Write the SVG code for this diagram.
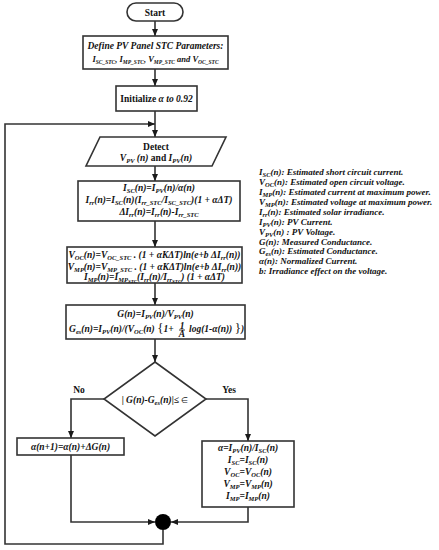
<svg xmlns="http://www.w3.org/2000/svg" width="439" height="550" viewBox="0 0 439 550">
<defs>
<marker id="ah" markerWidth="7" markerHeight="6" refX="7" refY="3" orient="auto" markerUnits="userSpaceOnUse"><path d="M0,0 L7,3 L0,6 z" fill="#1a1a1a"/></marker>
<style>
.bx{fill:#fff;stroke:#333;stroke-width:1.6}
.cn{fill:none;stroke:#333;stroke-width:1.6}
text{font-family:"Liberation Serif","Times New Roman",serif;font-weight:bold;font-style:italic;font-size:9.5px;fill:#111}
.c{text-anchor:middle}
.n{font-style:normal}
.lg{font-size:9px}
.sb{font-size:6.5px}
.ss{font-size:5px}
.d2{font-size:8.5px}
.d2 tspan{font-size:5.5px}
</style>
</defs>
<rect width="439" height="550" fill="#fff"/>

<g id="connectors">
<line class="cn" x1="155" y1="21" x2="155" y2="36" marker-end="url(#ah)"/>
<line class="cn" x1="155" y1="69" x2="155" y2="86" marker-end="url(#ah)"/>
<line class="cn" x1="155" y1="111" x2="155" y2="137" marker-end="url(#ah)"/>
<path class="cn" d="M163,530 V544 H5 V124 H155" marker-end="url(#ah)"/>
<line class="cn" x1="155" y1="166" x2="155" y2="181" marker-end="url(#ah)"/>
<line class="cn" x1="155" y1="221" x2="155" y2="247" marker-end="url(#ah)"/>
<line class="cn" x1="155" y1="283" x2="155" y2="305" marker-end="url(#ah)"/>
<line class="cn" x1="155" y1="339" x2="155" y2="362" marker-end="url(#ah)"/>
<path class="cn" d="M104,399 H71 V438" marker-end="url(#ah)"/>
<path class="cn" d="M71,455 V522 H155" marker-end="url(#ah)"/>
<path class="cn" d="M206,399 H248 V441" marker-end="url(#ah)"/>
<path class="cn" d="M248,507 V522 H171" marker-end="url(#ah)"/>
<text x="79" y="393" class="c n">No</text>
<text x="229" y="393" class="c n">Yes</text>
</g>

<g id="start">
<rect class="bx" x="127" y="3" width="56" height="18" rx="9"/>
<text x="155" y="15.5" class="c n">Start</text>
</g>

<g id="define">
<rect class="bx" x="83" y="36" width="145" height="33"/>
<text x="155.5" y="48.5" class="c">Define PV Panel STC Parameters:</text>
<text x="155.5" y="62" class="c d2">I<tspan baseline-shift="-2">SC_STC</tspan>, I<tspan baseline-shift="-2">MP_STC</tspan>, V<tspan baseline-shift="-2">MP_STC</tspan> and V<tspan baseline-shift="-2">OC_STC</tspan></text>
</g>

<g id="init">
<rect class="bx" x="116" y="86" width="81" height="25"/>
<text x="156.5" y="101.5" class="c"><tspan class="n">Initialize </tspan>α to 0.92</text>
</g>

<g id="detect">
<polygon class="bx" points="100,137 226,137 212,166 86,166"/>
<text x="156" y="150" class="c n">Detect</text>
<text x="156" y="161" class="c">V<tspan class="sb" baseline-shift="-2">PV</tspan> (n) <tspan class="n">and</tspan> I<tspan class="sb" baseline-shift="-2">PV</tspan>(n)</text>
</g>

<g id="estimate-isc">
<rect class="bx" x="78" y="181" width="162" height="40"/>
<text x="159" y="191" class="c">I<tspan class="sb" baseline-shift="-2">SC</tspan>(n)=I<tspan class="sb" baseline-shift="-2">PV</tspan>(n)/α(n)</text>
<text x="159" y="203" class="c">I<tspan class="sb" baseline-shift="-2">rr</tspan>(n)=I<tspan class="sb" baseline-shift="-2">SC</tspan>(n)(I<tspan class="sb" baseline-shift="-2">rr_STC</tspan>/I<tspan class="sb" baseline-shift="-2">SC_STC</tspan>)(1 + αΔT)</text>
<text x="159" y="215" class="c">ΔI<tspan class="sb" baseline-shift="-2">rr</tspan>(n)=I<tspan class="sb" baseline-shift="-2">rr</tspan>(n)-I<tspan class="sb" baseline-shift="-2">rr_STC</tspan></text>
</g>

<g id="estimate-voc">
<rect class="bx" x="67" y="247" width="175" height="36"/>
<text x="154.5" y="258" class="c">V<tspan class="sb" baseline-shift="-2">OC</tspan>(n)=V<tspan class="sb" baseline-shift="-2">OC_STC</tspan> . (1 + αKΔT)ln(e+b ΔI<tspan class="sb" baseline-shift="-2">rr</tspan>(n))</text>
<text x="154.5" y="269.5" class="c">V<tspan class="sb" baseline-shift="-2">MP</tspan>(n)=V<tspan class="sb" baseline-shift="-2">MP_STC</tspan> . (1 + αKΔT)ln(e+b ΔI<tspan class="sb" baseline-shift="-2">rr</tspan>(n))</text>
<text x="154.5" y="280" class="c">I<tspan class="sb" baseline-shift="-2">MP</tspan>(n)=I<tspan class="sb" baseline-shift="-2">MP</tspan><tspan class="ss" baseline-shift="-3">STC</tspan>(I<tspan class="sb" baseline-shift="-2">rr</tspan>(n)/I<tspan class="sb" baseline-shift="-2">rr</tspan><tspan class="ss" baseline-shift="-3">STC</tspan>) (1 + αΔT)</text>
</g>

<g id="conductance">
<rect class="bx" x="66" y="305" width="179" height="34"/>
<text x="155.5" y="317" class="c">G(n)=I<tspan class="sb" baseline-shift="-2">PV</tspan>(n)/V<tspan class="sb" baseline-shift="-2">PV</tspan>(n)</text>
<text x="69" y="332">G<tspan class="sb" baseline-shift="-2">es</tspan>(n)=I<tspan class="sb" baseline-shift="-2">PV</tspan>(n)/(V<tspan class="sb" baseline-shift="-2">OC</tspan>(n) <tspan font-size="13" font-style="normal" font-weight="normal">{</tspan>1+</text>
<text x="182" y="328.5" class="c">1</text>
<line x1="179" y1="330" x2="185" y2="330" stroke="#111" stroke-width="0.8"/>
<text x="182" y="337" class="c">A</text>
<text x="189" y="332">log(1-α(n)) <tspan font-size="13" font-style="normal" font-weight="normal">}</tspan>)</text>
</g>

<g id="decision">
<polygon class="bx" points="155,362 206,399 155,436 104,399"/>
<text x="155" y="402.5" class="c n">| <tspan font-style="italic">G(n)-G</tspan><tspan class="sb" font-style="italic" baseline-shift="-2">es</tspan><tspan font-style="italic">(n)</tspan>|≤ <tspan font-size="8" font-weight="normal">∈</tspan></text>
</g>

<g id="update-alpha">
<rect class="bx" x="17" y="438" width="107" height="17"/>
<text x="70.5" y="450" class="c">α(n+1)=α(n)+ΔG(n)</text>
</g>

<g id="assign">
<rect class="bx" x="202" y="441" width="92" height="66"/>
<text x="248" y="451" class="c">α=I<tspan class="sb" baseline-shift="-2">PV</tspan>(n)/I<tspan class="sb" baseline-shift="-2">SC</tspan>(n)</text>
<text x="248" y="463" class="c">I<tspan class="sb" baseline-shift="-2">SC</tspan>=I<tspan class="sb" baseline-shift="-2">SC</tspan>(n)</text>
<text x="248" y="475" class="c">V<tspan class="sb" baseline-shift="-2">OC</tspan>=V<tspan class="sb" baseline-shift="-2">OC</tspan>(n)</text>
<text x="248" y="487" class="c">V<tspan class="sb" baseline-shift="-2">MP</tspan>=V<tspan class="sb" baseline-shift="-2">MP</tspan>(n)</text>
<text x="248" y="499" class="c">I<tspan class="sb" baseline-shift="-2">MP</tspan>=I<tspan class="sb" baseline-shift="-2">MP</tspan>(n)</text>
</g>

<g id="junction">
<circle cx="163" cy="522" r="8" fill="#000"/>
</g>

<g id="legend">
<text class="lg" x="259" y="175">I<tspan class="sb" baseline-shift="-2">SC</tspan>(n): Estimated short circuit current.</text>
<text class="lg" x="259" y="185">V<tspan class="sb" baseline-shift="-2">OC</tspan>(n): Estimated open circuit voltage.</text>
<text class="lg" x="259" y="195">I<tspan class="sb" baseline-shift="-2">MP</tspan>(n): Estimated current at maximum power.</text>
<text class="lg" x="259" y="205">V<tspan class="sb" baseline-shift="-2">MP</tspan>(n): Estimated voltage at maximum power.</text>
<text class="lg" x="259" y="214.5">I<tspan class="sb" baseline-shift="-2">rr</tspan>(n): Estimated solar irradiance.</text>
<text class="lg" x="259" y="224.5">I<tspan class="sb" baseline-shift="-2">PV</tspan>(n): PV Current.</text>
<text class="lg" x="259" y="234.5">V<tspan class="sb" baseline-shift="-2">PV</tspan>(n) : PV Voltage.</text>
<text class="lg" x="259" y="244.5">G(n): Measured Conductance.</text>
<text class="lg" x="259" y="254">G<tspan class="sb" baseline-shift="-2">es</tspan>(n): Estimated Conductance.</text>
<text class="lg" x="259" y="264">α(n): Normalized Current.</text>
<text class="lg" x="259" y="274">b: Irradiance effect on the voltage.</text>
</g>
</svg>
